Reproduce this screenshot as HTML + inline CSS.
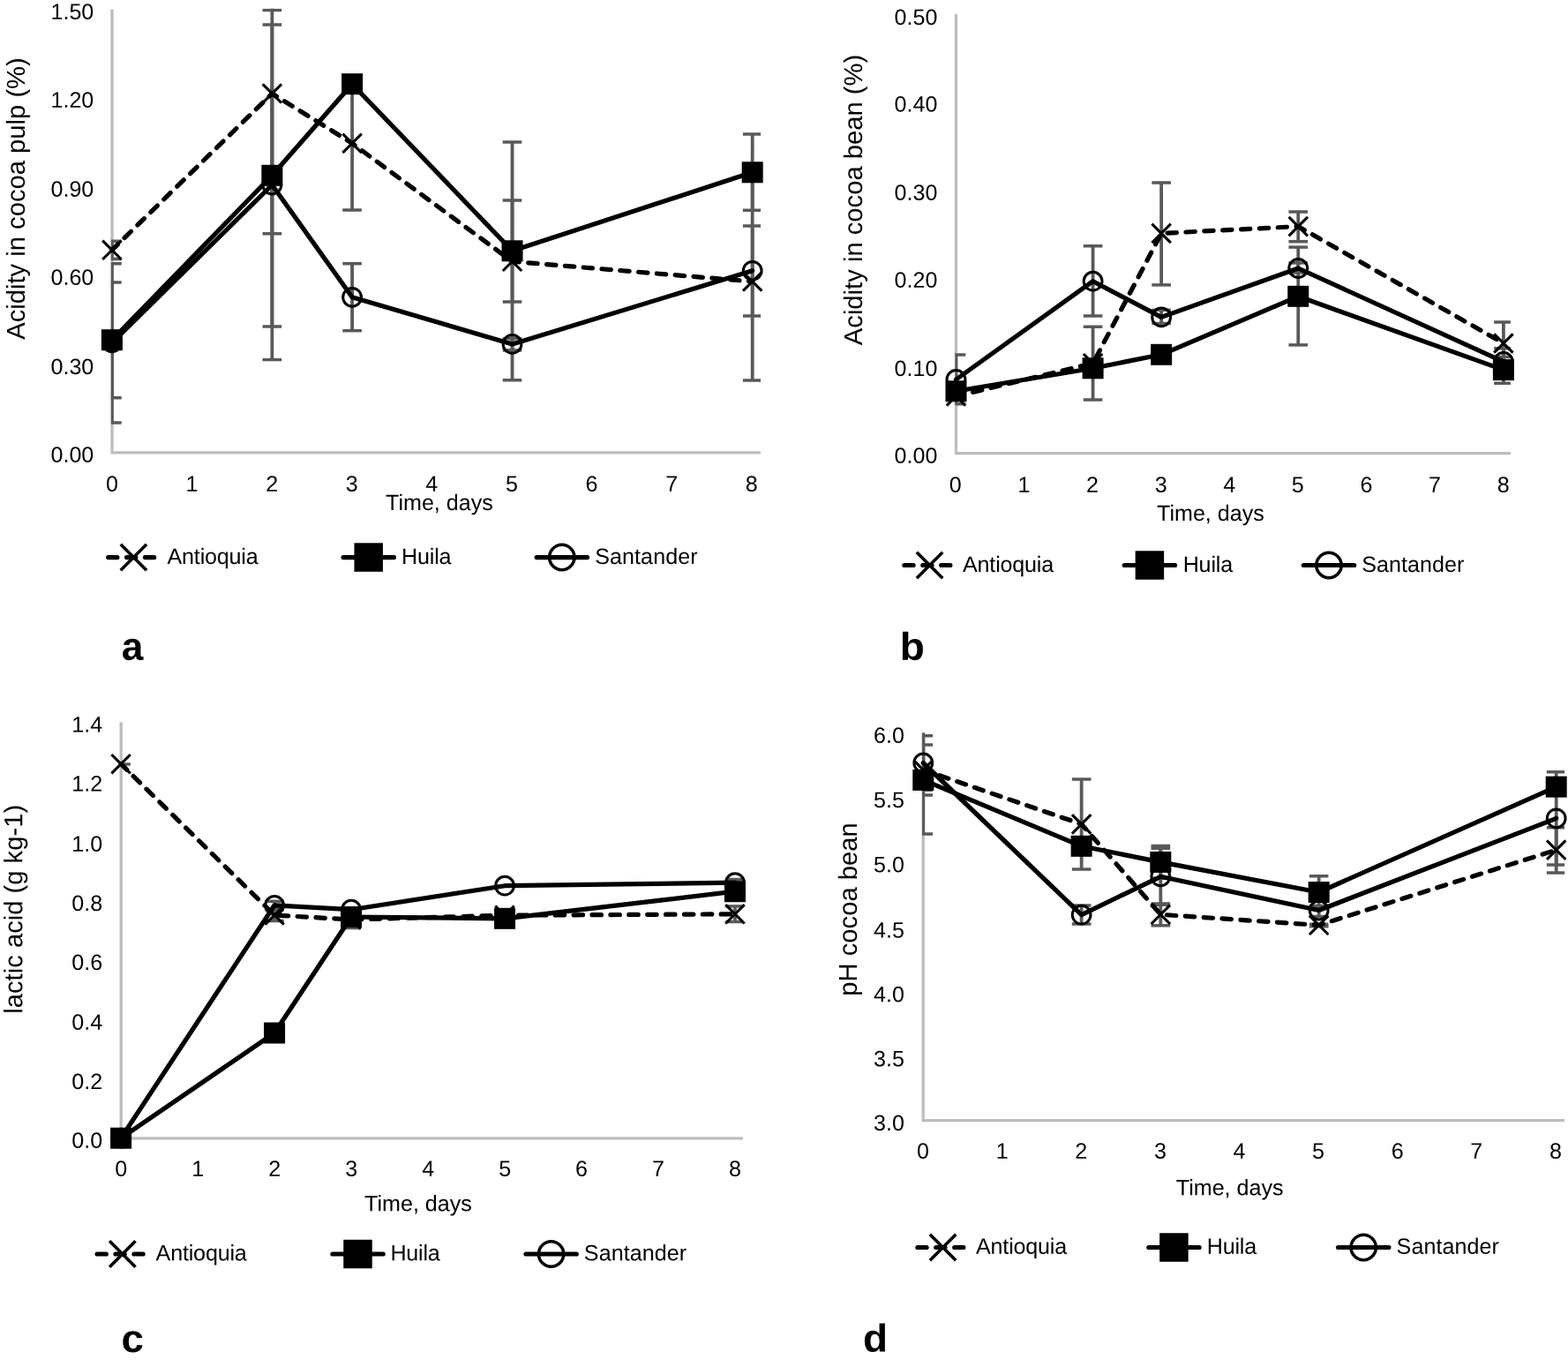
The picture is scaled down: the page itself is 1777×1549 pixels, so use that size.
<!DOCTYPE html>
<html lang="en"><head><meta charset="utf-8"><title>Acidity, lactic acid and pH during cocoa fermentation</title>
<style>html,body{margin:0;padding:0;background:#fff}body{width:1777px;height:1549px;overflow:hidden}svg{display:block}text{font-family:"Liberation Sans",Arial,Helvetica,sans-serif;fill:#000}</style>
</head><body>
<svg width="1777" height="1549" viewBox="0 0 1777 1549" role="img" aria-label="Four line charts: acidity in cocoa pulp, acidity in cocoa bean, lactic acid and pH of cocoa bean versus fermentation time for Antioquia, Huila and Santander">
<rect width="1777" height="1549" fill="#fff"/>
<g id="chart-a">
<path d="M127 10.5L127 512.8L862.1 512.8" stroke="#bdbdbd" stroke-width="3.3" fill="none"/>
<clipPath id="clip-a"><rect x="125.9" y="9.7" width="736.2" height="503.1"/></clipPath>
<g clip-path="url(#clip-a)" stroke="#595959" fill="none">
<path d="M126.9 273.3V293.4" stroke-width="3.8"/>
<path d="M116.1 273.3H137.7" stroke-width="3.5"/>
<path d="M116.1 293.4H137.7" stroke-width="3.5"/>
<path d="M126.9 298.8V479" stroke-width="3.8"/>
<path d="M116.1 298.8H137.7" stroke-width="3.5"/>
<path d="M116.1 479H137.7" stroke-width="3.5"/>
<path d="M126.9 319.9V450.8" stroke-width="3.8"/>
<path d="M116.1 319.9H137.7" stroke-width="3.5"/>
<path d="M116.1 450.8H137.7" stroke-width="3.5"/>
<path d="M308.35 0V407.6" stroke-width="3.8"/>
<path d="M297.55 11.4H319.15" stroke-width="3.5"/>
<path d="M297.55 407.6H319.15" stroke-width="3.5"/>
<path d="M308.35 28V370" stroke-width="3.8"/>
<path d="M297.55 28H319.15" stroke-width="3.5"/>
<path d="M297.55 370H319.15" stroke-width="3.5"/>
<path d="M308.35 100V264.8" stroke-width="3.8"/>
<path d="M297.55 264.8H319.15" stroke-width="3.5"/>
<path d="M399.08 90V237.9" stroke-width="3.8"/>
<path d="M388.28 237.9H409.88" stroke-width="3.5"/>
<path d="M399.08 298.7V374.7" stroke-width="3.8"/>
<path d="M388.28 298.7H409.88" stroke-width="3.5"/>
<path d="M388.28 374.7H409.88" stroke-width="3.5"/>
<path d="M580.53 161V430.75" stroke-width="3.8"/>
<path d="M569.73 161H591.33" stroke-width="3.5"/>
<path d="M569.73 430.75H591.33" stroke-width="3.5"/>
<path d="M580.53 227V342" stroke-width="3.8"/>
<path d="M569.73 227H591.33" stroke-width="3.5"/>
<path d="M569.73 342H591.33" stroke-width="3.5"/>
<path d="M580.53 383.7V396.9" stroke-width="3.8"/>
<path d="M569.73 383.7H591.33" stroke-width="3.5"/>
<path d="M569.73 396.9H591.33" stroke-width="3.5"/>
<path d="M852.7 152V238.2" stroke-width="3.8"/>
<path d="M841.9 152H863.5" stroke-width="3.5"/>
<path d="M841.9 238.2H863.5" stroke-width="3.5"/>
<path d="M852.7 256V358" stroke-width="3.8"/>
<path d="M841.9 256H863.5" stroke-width="3.5"/>
<path d="M841.9 358H863.5" stroke-width="3.5"/>
<path d="M852.7 207V431" stroke-width="3.8"/>
<path d="M841.9 431H863.5" stroke-width="3.5"/>
</g>
<path d="M126.9 283.3L308.35 106L399.08 162.4L580.53 296.3L852.7 319" stroke="#000" stroke-width="5.2" fill="none" stroke-linejoin="round" stroke-linecap="round" stroke-dasharray="10.44 10.44" stroke-dashoffset="1.2"/>
<path d="M126.9 385.2L308.35 198.8L399.08 95.2L580.53 284.3L852.7 195.3" stroke="#000" stroke-width="5.2" fill="none" stroke-linejoin="round" stroke-linecap="round"/>
<path d="M126.9 388.3L308.35 209.5L399.08 336.8L580.53 389.9L852.7 306.8" stroke="#000" stroke-width="5.2" fill="none" stroke-linejoin="round" stroke-linecap="round"/>
<path d="M116.2 272.6L137.6 294M116.2 294L137.6 272.6" stroke="#000" stroke-width="3.1" fill="none"/>
<path d="M297.65 95.3L319.05 116.7M297.65 116.7L319.05 95.3" stroke="#000" stroke-width="3.1" fill="none"/>
<path d="M388.38 151.7L409.78 173.1M388.38 173.1L409.78 151.7" stroke="#000" stroke-width="3.1" fill="none"/>
<path d="M569.83 285.6L591.23 307M569.83 307L591.23 285.6" stroke="#000" stroke-width="3.1" fill="none"/>
<path d="M842 308.3L863.4 329.7M842 329.7L863.4 308.3" stroke="#000" stroke-width="3.1" fill="none"/>
<circle cx="126.9" cy="388.3" r="10.4" stroke="#000" stroke-width="3" fill="none"/>
<circle cx="308.35" cy="209.5" r="10.4" stroke="#000" stroke-width="3" fill="none"/>
<circle cx="399.08" cy="336.8" r="10.4" stroke="#000" stroke-width="3" fill="none"/>
<circle cx="580.53" cy="389.9" r="10.4" stroke="#000" stroke-width="3" fill="none"/>
<circle cx="852.7" cy="306.8" r="10.4" stroke="#000" stroke-width="3" fill="none"/>
<rect x="114.9" y="373.2" width="24" height="24" fill="#000"/>
<rect x="296.35" y="186.8" width="24" height="24" fill="#000"/>
<rect x="387.08" y="83.2" width="24" height="24" fill="#000"/>
<rect x="568.53" y="272.3" width="24" height="24" fill="#000"/>
<rect x="840.7" y="183.3" width="24" height="24" fill="#000"/>
<g font-size="25.1" text-anchor="end">
<text transform="translate(106.3 21.7) rotate(0.03)">1.50</text>
<text transform="translate(106.3 121.7) rotate(0.03)">1.20</text>
<text transform="translate(106.3 222.8) rotate(0.03)">0.90</text>
<text transform="translate(106.3 322.7) rotate(0.03)">0.60</text>
<text transform="translate(106.3 424) rotate(0.03)">0.30</text>
<text transform="translate(106.3 523.7) rotate(0.03)">0.00</text>
</g>
<g font-size="25.1" text-anchor="middle">
<text transform="translate(126.9 556.7) rotate(0.03)">0</text>
<text transform="translate(217.51 556.7) rotate(0.03)">1</text>
<text transform="translate(308.12 556.7) rotate(0.03)">2</text>
<text transform="translate(398.74 556.7) rotate(0.03)">3</text>
<text transform="translate(489.35 556.7) rotate(0.03)">4</text>
<text transform="translate(579.96 556.7) rotate(0.03)">5</text>
<text transform="translate(670.57 556.7) rotate(0.03)">6</text>
<text transform="translate(761.19 556.7) rotate(0.03)">7</text>
<text transform="translate(851.8 556.7) rotate(0.03)">8</text>
</g>
<text transform="translate(437 578) rotate(0.03)" font-size="25.1">Time, days</text>
<text transform="translate(28 225) rotate(-89.97)" font-size="29.2" text-anchor="middle">Acidity in cocoa pulp (%)</text>
<path d="M122.7 631.55H132.9M143.6 631.55H153.8M164.5 631.55H174.7" stroke="#000" stroke-width="5.2" stroke-linecap="round"/>
<path d="M136.7 616.85L166.1 646.25M136.7 646.25L166.1 616.85" stroke="#000" stroke-width="3.6" fill="none"/>
<text transform="translate(189.5 638.9) rotate(0.03)" font-size="25.1" letter-spacing="-0.18">Antioquia</text>
<path d="M389.1 631.55H446.4" stroke="#000" stroke-width="5.2" stroke-linecap="round"/>
<rect x="401.45" y="615.3" width="32.5" height="32.5" fill="#000"/>
<text transform="translate(455.1 638.9) rotate(0.03)" font-size="25.1" letter-spacing="-0.2">Huila</text>
<path d="M608.2 631.55H665.5" stroke="#000" stroke-width="5.2" stroke-linecap="round"/>
<circle cx="636.8" cy="631.55" r="14.2" stroke="#000" stroke-width="3.5" fill="none"/>
<text transform="translate(674.3 638.9) rotate(0.03)" font-size="25.1" letter-spacing="0.05">Santander</text>
<text transform="translate(137.7 747.7) rotate(0.03) scale(1.03 1.04)" font-size="43" font-weight="bold">a</text>
</g>
<g id="chart-b">
<path d="M1083.5 15.9L1083.5 513.6L1711.9 513.6" stroke="#bdbdbd" stroke-width="3.3" fill="none"/>
<clipPath id="clip-b"><rect x="1082.4" y="15.1" width="629.5" height="498.5"/></clipPath>
<g clip-path="url(#clip-b)" stroke="#595959" fill="none">
<path d="M1083.5 402V457.7" stroke-width="3.8"/>
<path d="M1072.7 402H1094.3" stroke-width="3.5"/>
<path d="M1072.7 457.7H1094.3" stroke-width="3.5"/>
<path d="M1238.6 278.7V358.1" stroke-width="3.8"/>
<path d="M1227.8 278.7H1249.4" stroke-width="3.5"/>
<path d="M1227.8 358.1H1249.4" stroke-width="3.5"/>
<path d="M1238.6 370.2V453.1" stroke-width="3.8"/>
<path d="M1227.8 370.2H1249.4" stroke-width="3.5"/>
<path d="M1227.8 453.1H1249.4" stroke-width="3.5"/>
<path d="M1316.15 207V322.9" stroke-width="3.8"/>
<path d="M1305.35 207H1326.95" stroke-width="3.5"/>
<path d="M1305.35 322.9H1326.95" stroke-width="3.5"/>
<path d="M1316.15 351.3V366.5" stroke-width="3.8"/>
<path d="M1305.35 351.3H1326.95" stroke-width="3.5"/>
<path d="M1305.35 366.5H1326.95" stroke-width="3.5"/>
<path d="M1471.25 239.9V273.7" stroke-width="3.8"/>
<path d="M1460.45 239.9H1482.05" stroke-width="3.5"/>
<path d="M1460.45 273.7H1482.05" stroke-width="3.5"/>
<path d="M1471.25 280.1V390.9" stroke-width="3.8"/>
<path d="M1460.45 280.1H1482.05" stroke-width="3.5"/>
<path d="M1460.45 390.9H1482.05" stroke-width="3.5"/>
<path d="M1471.25 297.9V309" stroke-width="3.8"/>
<path d="M1460.45 297.9H1482.05" stroke-width="3.5"/>
<path d="M1460.45 309H1482.05" stroke-width="3.5"/>
<path d="M1703.9 365V413" stroke-width="3.8"/>
<path d="M1693.1 365H1714.7" stroke-width="3.5"/>
<path d="M1693.1 413H1714.7" stroke-width="3.5"/>
<path d="M1703.9 394.7V424.9" stroke-width="3.8"/>
<path d="M1693.1 394.7H1714.7" stroke-width="3.5"/>
<path d="M1693.1 424.9H1714.7" stroke-width="3.5"/>
<path d="M1703.9 404.5V434.3" stroke-width="3.8"/>
<path d="M1693.1 404.5H1714.7" stroke-width="3.5"/>
<path d="M1693.1 434.3H1714.7" stroke-width="3.5"/>
</g>
<path d="M1083.5 449L1238.6 411.7L1316.15 264.4L1471.25 256.6L1703.9 389" stroke="#000" stroke-width="5.2" fill="none" stroke-linejoin="round" stroke-linecap="round" stroke-dasharray="10.44 10.44" stroke-dashoffset="1.2"/>
<path d="M1083.5 443.3L1238.6 417.3L1316.15 401.8L1471.25 335.8L1703.9 419.1" stroke="#000" stroke-width="5.2" fill="none" stroke-linejoin="round" stroke-linecap="round"/>
<path d="M1083.5 430L1238.6 318.7L1316.15 359.4L1471.25 304L1703.9 409.8" stroke="#000" stroke-width="5.2" fill="none" stroke-linejoin="round" stroke-linecap="round"/>
<path d="M1072.8 438.3L1094.2 459.7M1072.8 459.7L1094.2 438.3" stroke="#000" stroke-width="3.1" fill="none"/>
<path d="M1227.9 401L1249.3 422.4M1227.9 422.4L1249.3 401" stroke="#000" stroke-width="3.1" fill="none"/>
<path d="M1305.45 253.7L1326.85 275.1M1305.45 275.1L1326.85 253.7" stroke="#000" stroke-width="3.1" fill="none"/>
<path d="M1460.55 245.9L1481.95 267.3M1460.55 267.3L1481.95 245.9" stroke="#000" stroke-width="3.1" fill="none"/>
<path d="M1693.2 378.3L1714.6 399.7M1693.2 399.7L1714.6 378.3" stroke="#000" stroke-width="3.1" fill="none"/>
<circle cx="1083.5" cy="430" r="10.4" stroke="#000" stroke-width="3" fill="none"/>
<circle cx="1238.6" cy="318.7" r="10.4" stroke="#000" stroke-width="3" fill="none"/>
<circle cx="1316.15" cy="359.4" r="10.4" stroke="#000" stroke-width="3" fill="none"/>
<circle cx="1471.25" cy="304" r="10.4" stroke="#000" stroke-width="3" fill="none"/>
<circle cx="1703.9" cy="409.8" r="10.4" stroke="#000" stroke-width="3" fill="none"/>
<rect x="1071.5" y="431.3" width="24" height="24" fill="#000"/>
<rect x="1226.6" y="405.3" width="24" height="24" fill="#000"/>
<rect x="1304.15" y="389.8" width="24" height="24" fill="#000"/>
<rect x="1459.25" y="323.8" width="24" height="24" fill="#000"/>
<rect x="1691.9" y="407.1" width="24" height="24" fill="#000"/>
<g font-size="25.1" text-anchor="end">
<text transform="translate(1062.35 27.95) rotate(0.03)">0.50</text>
<text transform="translate(1062.35 126.55) rotate(0.03)">0.40</text>
<text transform="translate(1062.35 226.75) rotate(0.03)">0.30</text>
<text transform="translate(1062.35 325.75) rotate(0.03)">0.20</text>
<text transform="translate(1062.35 426.05) rotate(0.03)">0.10</text>
<text transform="translate(1062.35 524.85) rotate(0.03)">0.00</text>
</g>
<g font-size="25.1" text-anchor="middle">
<text transform="translate(1082.85 557.8) rotate(0.03)">0</text>
<text transform="translate(1160.45 557.8) rotate(0.03)">1</text>
<text transform="translate(1238.05 557.8) rotate(0.03)">2</text>
<text transform="translate(1315.65 557.8) rotate(0.03)">3</text>
<text transform="translate(1393.25 557.8) rotate(0.03)">4</text>
<text transform="translate(1470.85 557.8) rotate(0.03)">5</text>
<text transform="translate(1548.45 557.8) rotate(0.03)">6</text>
<text transform="translate(1626.05 557.8) rotate(0.03)">7</text>
<text transform="translate(1703.65 557.8) rotate(0.03)">8</text>
</g>
<text transform="translate(1311 590) rotate(0.03)" font-size="25.1">Time, days</text>
<text transform="translate(977 226.5) rotate(-89.97)" font-size="29.2" text-anchor="middle">Acidity in cocoa bean (%)</text>
<path d="M1024.9 640.5H1035.1M1045.8 640.5H1056M1066.7 640.5H1076.9" stroke="#000" stroke-width="5.2" stroke-linecap="round"/>
<path d="M1038.9 625.8L1068.3 655.2M1038.9 655.2L1068.3 625.8" stroke="#000" stroke-width="3.6" fill="none"/>
<text transform="translate(1091 648) rotate(0.03)" font-size="25.1" letter-spacing="-0.18">Antioquia</text>
<path d="M1274.3 640.5H1331.6" stroke="#000" stroke-width="5.2" stroke-linecap="round"/>
<rect x="1286.65" y="624.25" width="32.5" height="32.5" fill="#000"/>
<text transform="translate(1340.7 648) rotate(0.03)" font-size="25.1" letter-spacing="-0.2">Huila</text>
<path d="M1477.4 640.5H1534.7" stroke="#000" stroke-width="5.2" stroke-linecap="round"/>
<circle cx="1506" cy="640.5" r="14.2" stroke="#000" stroke-width="3.5" fill="none"/>
<text transform="translate(1543.2 648) rotate(0.03)" font-size="25.1" letter-spacing="0.05">Santander</text>
<text transform="translate(1019.7 747.7) rotate(0.03) scale(1.07 1.03)" font-size="43" font-weight="bold">b</text>
</g>
<g id="chart-c">
<path d="M137.2 818.2L137.2 1289.9L842 1289.9" stroke="#bdbdbd" stroke-width="3.3" fill="none"/>
<clipPath id="clip-c"><rect x="136.1" y="817.4" width="705.9" height="472.5"/></clipPath>
<g clip-path="url(#clip-c)" stroke="#595959" fill="none">
<path d="M137.1 865V867" stroke-width="3.8"/>
<path d="M126.3 865.9H147.9" stroke-width="3.5"/>
<path d="M311.07 1021.3V1030.3" stroke-width="3.8"/>
<path d="M300.27 1021.3H321.88" stroke-width="3.5"/>
<path d="M300.27 1030.3H321.88" stroke-width="3.5"/>
<path d="M311.07 1030.5V1043.5" stroke-width="3.8"/>
<path d="M300.27 1030.5H321.88" stroke-width="3.5"/>
<path d="M300.27 1043.5H321.88" stroke-width="3.5"/>
<path d="M398.06 1032.5V1051.5" stroke-width="3.8"/>
<path d="M387.26 1032.5H408.86" stroke-width="3.5"/>
<path d="M387.26 1051.5H408.86" stroke-width="3.5"/>
<path d="M833 996.6V1003.8" stroke-width="3.8"/>
<path d="M822.2 996.6H843.8" stroke-width="3.5"/>
<path d="M822.2 1003.8H843.8" stroke-width="3.5"/>
<path d="M833 1026.9V1044.5" stroke-width="3.8"/>
<path d="M822.2 1026.9H843.8" stroke-width="3.5"/>
<path d="M822.2 1044.5H843.8" stroke-width="3.5"/>
</g>
<path d="M137.1 865.7L311.07 1037L398.06 1042L572.04 1037.2L833 1035.8" stroke="#000" stroke-width="5.2" fill="none" stroke-linejoin="round" stroke-linecap="round" stroke-dasharray="10.44 10.44" stroke-dashoffset="1.2"/>
<path d="M137.1 1289.7L311.07 1170.5L398.06 1039L572.04 1040.8L833 1010.2" stroke="#000" stroke-width="5.2" fill="none" stroke-linejoin="round" stroke-linecap="round"/>
<path d="M137.1 1289.7L311.07 1025.8L398.06 1030.7L572.04 1003.7L833 1000.2" stroke="#000" stroke-width="5.2" fill="none" stroke-linejoin="round" stroke-linecap="round"/>
<path d="M126.4 855L147.8 876.4M126.4 876.4L147.8 855" stroke="#000" stroke-width="3.1" fill="none"/>
<path d="M300.38 1026.3L321.77 1047.7M300.38 1047.7L321.77 1026.3" stroke="#000" stroke-width="3.1" fill="none"/>
<path d="M387.36 1031.3L408.76 1052.7M387.36 1052.7L408.76 1031.3" stroke="#000" stroke-width="3.1" fill="none"/>
<path d="M561.34 1026.5L582.74 1047.9M561.34 1047.9L582.74 1026.5" stroke="#000" stroke-width="3.1" fill="none"/>
<path d="M822.3 1025.1L843.7 1046.5M822.3 1046.5L843.7 1025.1" stroke="#000" stroke-width="3.1" fill="none"/>
<circle cx="137.1" cy="1289.7" r="10.4" stroke="#000" stroke-width="3" fill="none"/>
<circle cx="311.07" cy="1025.8" r="10.4" stroke="#000" stroke-width="3" fill="none"/>
<circle cx="398.06" cy="1030.7" r="10.4" stroke="#000" stroke-width="3" fill="none"/>
<circle cx="572.04" cy="1003.7" r="10.4" stroke="#000" stroke-width="3" fill="none"/>
<circle cx="833" cy="1000.2" r="10.4" stroke="#000" stroke-width="3" fill="none"/>
<rect x="125.1" y="1277.7" width="24" height="24" fill="#000"/>
<rect x="299.07" y="1158.5" width="24" height="24" fill="#000"/>
<rect x="386.06" y="1027" width="24" height="24" fill="#000"/>
<rect x="560.04" y="1028.8" width="24" height="24" fill="#000"/>
<rect x="821" y="998.2" width="24" height="24" fill="#000"/>
<g font-size="25.1" text-anchor="end">
<text transform="translate(116.1 829.45) rotate(0.03)">1.4</text>
<text transform="translate(116.1 896.55) rotate(0.03)">1.2</text>
<text transform="translate(116.1 964.75) rotate(0.03)">1.0</text>
<text transform="translate(116.1 1031.95) rotate(0.03)">0.8</text>
<text transform="translate(116.1 1098.95) rotate(0.03)">0.6</text>
<text transform="translate(116.1 1166.85) rotate(0.03)">0.4</text>
<text transform="translate(116.1 1234.05) rotate(0.03)">0.2</text>
<text transform="translate(116.1 1300.85) rotate(0.03)">0.0</text>
</g>
<g font-size="25.1" text-anchor="middle">
<text transform="translate(137.3 1332.75) rotate(0.03)">0</text>
<text transform="translate(224.26 1332.75) rotate(0.03)">1</text>
<text transform="translate(311.23 1332.75) rotate(0.03)">2</text>
<text transform="translate(398.19 1332.75) rotate(0.03)">3</text>
<text transform="translate(485.15 1332.75) rotate(0.03)">4</text>
<text transform="translate(572.11 1332.75) rotate(0.03)">5</text>
<text transform="translate(659.08 1332.75) rotate(0.03)">6</text>
<text transform="translate(746.04 1332.75) rotate(0.03)">7</text>
<text transform="translate(833 1332.75) rotate(0.03)">8</text>
</g>
<text transform="translate(413.05 1372.3) rotate(0.03)" font-size="25.1">Time, days</text>
<text transform="translate(25.2 1030.3) rotate(-89.97)" font-size="29.2" text-anchor="middle">lactic acid (g kg-1)</text>
<path d="M110.1 1421H120.3M131 1421H141.2M151.9 1421H162.1" stroke="#000" stroke-width="5.2" stroke-linecap="round"/>
<path d="M124.1 1406.3L153.5 1435.7M124.1 1435.7L153.5 1406.3" stroke="#000" stroke-width="3.6" fill="none"/>
<text transform="translate(176.6 1428.2) rotate(0.03)" font-size="25.1" letter-spacing="-0.18">Antioquia</text>
<path d="M376.9 1421H434.2" stroke="#000" stroke-width="5.2" stroke-linecap="round"/>
<rect x="389.25" y="1404.75" width="32.5" height="32.5" fill="#000"/>
<text transform="translate(442.4 1428.2) rotate(0.03)" font-size="25.1" letter-spacing="-0.2">Huila</text>
<path d="M596 1421H653.3" stroke="#000" stroke-width="5.2" stroke-linecap="round"/>
<circle cx="624.6" cy="1421" r="14.2" stroke="#000" stroke-width="3.5" fill="none"/>
<text transform="translate(661.85 1428.2) rotate(0.03)" font-size="25.1" letter-spacing="0.05">Santander</text>
<text transform="translate(137.4 1532) rotate(0.03) scale(1.06 1.03)" font-size="43" font-weight="bold">c</text>
</g>
<g id="chart-d">
<path d="M1046.2 831L1046.2 1269.7L1773.1 1269.7" stroke="#bdbdbd" stroke-width="3.3" fill="none"/>
<clipPath id="clip-d"><rect x="1045.1" y="830.2" width="728" height="439.5"/></clipPath>
<g clip-path="url(#clip-d)" stroke="#595959" fill="none">
<path d="M1046.3 833.7V895.3" stroke-width="3.8"/>
<path d="M1035.5 833.7H1057.1" stroke-width="3.5"/>
<path d="M1035.5 895.3H1057.1" stroke-width="3.5"/>
<path d="M1046.3 843.9V901" stroke-width="3.8"/>
<path d="M1035.5 843.9H1057.1" stroke-width="3.5"/>
<path d="M1035.5 901H1057.1" stroke-width="3.5"/>
<path d="M1046.3 820V944.9" stroke-width="3.8"/>
<path d="M1035.5 944.9H1057.1" stroke-width="3.5"/>
<path d="M1225.65 883.05V984.9" stroke-width="3.8"/>
<path d="M1214.85 883.05H1236.45" stroke-width="3.5"/>
<path d="M1214.85 984.9H1236.45" stroke-width="3.5"/>
<path d="M1225.65 1026.1V1047.1" stroke-width="3.8"/>
<path d="M1214.85 1026.1H1236.45" stroke-width="3.5"/>
<path d="M1214.85 1047.1H1236.45" stroke-width="3.5"/>
<path d="M1315.33 958.5V995.3" stroke-width="3.8"/>
<path d="M1304.53 958.5H1326.12" stroke-width="3.5"/>
<path d="M1304.53 995.3H1326.12" stroke-width="3.5"/>
<path d="M1315.33 961.3V1025.3" stroke-width="3.8"/>
<path d="M1304.53 961.3H1326.12" stroke-width="3.5"/>
<path d="M1304.53 1025.3H1326.12" stroke-width="3.5"/>
<path d="M1315.33 1023.9V1048.7" stroke-width="3.8"/>
<path d="M1304.53 1023.9H1326.12" stroke-width="3.5"/>
<path d="M1304.53 1048.7H1326.12" stroke-width="3.5"/>
<path d="M1494.67 992.8V1029.2" stroke-width="3.8"/>
<path d="M1483.88 992.8H1505.47" stroke-width="3.5"/>
<path d="M1483.88 1029.2H1505.47" stroke-width="3.5"/>
<path d="M1494.67 1026.5V1038.4" stroke-width="3.8"/>
<path d="M1483.88 1026.5H1505.47" stroke-width="3.5"/>
<path d="M1483.88 1038.4H1505.47" stroke-width="3.5"/>
<path d="M1494.67 1047.2V1049.8" stroke-width="3.8"/>
<path d="M1483.88 1047.2H1505.47" stroke-width="3.5"/>
<path d="M1483.88 1049.8H1505.47" stroke-width="3.5"/>
<path d="M1763.7 874.8V979.9" stroke-width="3.8"/>
<path d="M1752.9 874.8H1774.5" stroke-width="3.5"/>
<path d="M1752.9 979.9H1774.5" stroke-width="3.5"/>
<path d="M1763.7 937.8V988.9" stroke-width="3.8"/>
<path d="M1752.9 937.8H1774.5" stroke-width="3.5"/>
<path d="M1752.9 988.9H1774.5" stroke-width="3.5"/>
</g>
<path d="M1046.3 872.4L1225.65 933.9L1315.33 1036.3L1494.67 1048.3L1763.7 963.1" stroke="#000" stroke-width="5.2" fill="none" stroke-linejoin="round" stroke-linecap="round" stroke-dasharray="10.44 10.44" stroke-dashoffset="1.2"/>
<path d="M1046.3 883.9L1225.65 958.8L1315.33 976.9L1494.67 1011L1763.7 891.6" stroke="#000" stroke-width="5.2" fill="none" stroke-linejoin="round" stroke-linecap="round"/>
<path d="M1046.3 864.5L1225.65 1036.6L1315.33 993.3L1494.67 1031.5L1763.7 927.3" stroke="#000" stroke-width="5.2" fill="none" stroke-linejoin="round" stroke-linecap="round"/>
<path d="M1035.6 861.7L1057 883.1M1035.6 883.1L1057 861.7" stroke="#000" stroke-width="3.1" fill="none"/>
<path d="M1214.95 923.2L1236.35 944.6M1214.95 944.6L1236.35 923.2" stroke="#000" stroke-width="3.1" fill="none"/>
<path d="M1304.62 1025.6L1326.03 1047M1304.62 1047L1326.03 1025.6" stroke="#000" stroke-width="3.1" fill="none"/>
<path d="M1483.97 1037.6L1505.38 1059M1483.97 1059L1505.38 1037.6" stroke="#000" stroke-width="3.1" fill="none"/>
<path d="M1753 952.4L1774.4 973.8M1753 973.8L1774.4 952.4" stroke="#000" stroke-width="3.1" fill="none"/>
<circle cx="1046.3" cy="864.5" r="10.4" stroke="#000" stroke-width="3" fill="none"/>
<circle cx="1225.65" cy="1036.6" r="10.4" stroke="#000" stroke-width="3" fill="none"/>
<circle cx="1315.33" cy="993.3" r="10.4" stroke="#000" stroke-width="3" fill="none"/>
<circle cx="1494.67" cy="1031.5" r="10.4" stroke="#000" stroke-width="3" fill="none"/>
<circle cx="1763.7" cy="927.3" r="10.4" stroke="#000" stroke-width="3" fill="none"/>
<rect x="1034.3" y="871.9" width="24" height="24" fill="#000"/>
<rect x="1213.65" y="946.8" width="24" height="24" fill="#000"/>
<rect x="1303.33" y="964.9" width="24" height="24" fill="#000"/>
<rect x="1482.67" y="999" width="24" height="24" fill="#000"/>
<rect x="1751.7" y="879.6" width="24" height="24" fill="#000"/>
<g font-size="25.1" text-anchor="end">
<text transform="translate(1025 841.85) rotate(0.03)">6.0</text>
<text transform="translate(1025 914.9) rotate(0.03)">5.5</text>
<text transform="translate(1025 988.3) rotate(0.03)">5.0</text>
<text transform="translate(1025 1062.5) rotate(0.03)">4.5</text>
<text transform="translate(1025 1135.25) rotate(0.03)">4.0</text>
<text transform="translate(1025 1208.2) rotate(0.03)">3.5</text>
<text transform="translate(1025 1281.1) rotate(0.03)">3.0</text>
</g>
<g font-size="25.1" text-anchor="middle">
<text transform="translate(1046.1 1312.8) rotate(0.03)">0</text>
<text transform="translate(1135.7 1312.8) rotate(0.03)">1</text>
<text transform="translate(1225.3 1312.8) rotate(0.03)">2</text>
<text transform="translate(1314.9 1312.8) rotate(0.03)">3</text>
<text transform="translate(1404.5 1312.8) rotate(0.03)">4</text>
<text transform="translate(1494.1 1312.8) rotate(0.03)">5</text>
<text transform="translate(1583.7 1312.8) rotate(0.03)">6</text>
<text transform="translate(1673.3 1312.8) rotate(0.03)">7</text>
<text transform="translate(1762.9 1312.8) rotate(0.03)">8</text>
</g>
<text transform="translate(1332.75 1354.2) rotate(0.03)" font-size="25.1">Time, days</text>
<text transform="translate(971 1030.5) rotate(-89.97)" font-size="29.2" text-anchor="middle">pH cocoa bean</text>
<path d="M1039.9 1413.5H1050.1M1060.8 1413.5H1071M1081.7 1413.5H1091.9" stroke="#000" stroke-width="5.2" stroke-linecap="round"/>
<path d="M1053.9 1398.8L1083.3 1428.2M1053.9 1428.2L1083.3 1398.8" stroke="#000" stroke-width="3.6" fill="none"/>
<text transform="translate(1106 1420.75) rotate(0.03)" font-size="25.1" letter-spacing="-0.18">Antioquia</text>
<path d="M1301.8 1413.5H1359.1" stroke="#000" stroke-width="5.2" stroke-linecap="round"/>
<rect x="1314.15" y="1397.25" width="32.5" height="32.5" fill="#000"/>
<text transform="translate(1367.8 1420.75) rotate(0.03)" font-size="25.1" letter-spacing="-0.2">Huila</text>
<path d="M1516.6 1413.5H1573.9" stroke="#000" stroke-width="5.2" stroke-linecap="round"/>
<circle cx="1545.2" cy="1413.5" r="14.2" stroke="#000" stroke-width="3.5" fill="none"/>
<text transform="translate(1582.6 1420.75) rotate(0.03)" font-size="25.1" letter-spacing="0.05">Santander</text>
<text transform="translate(978.1 1531.5) rotate(0.03) scale(1.07 1.03)" font-size="43" font-weight="bold">d</text>
</g>
</svg></body></html>
